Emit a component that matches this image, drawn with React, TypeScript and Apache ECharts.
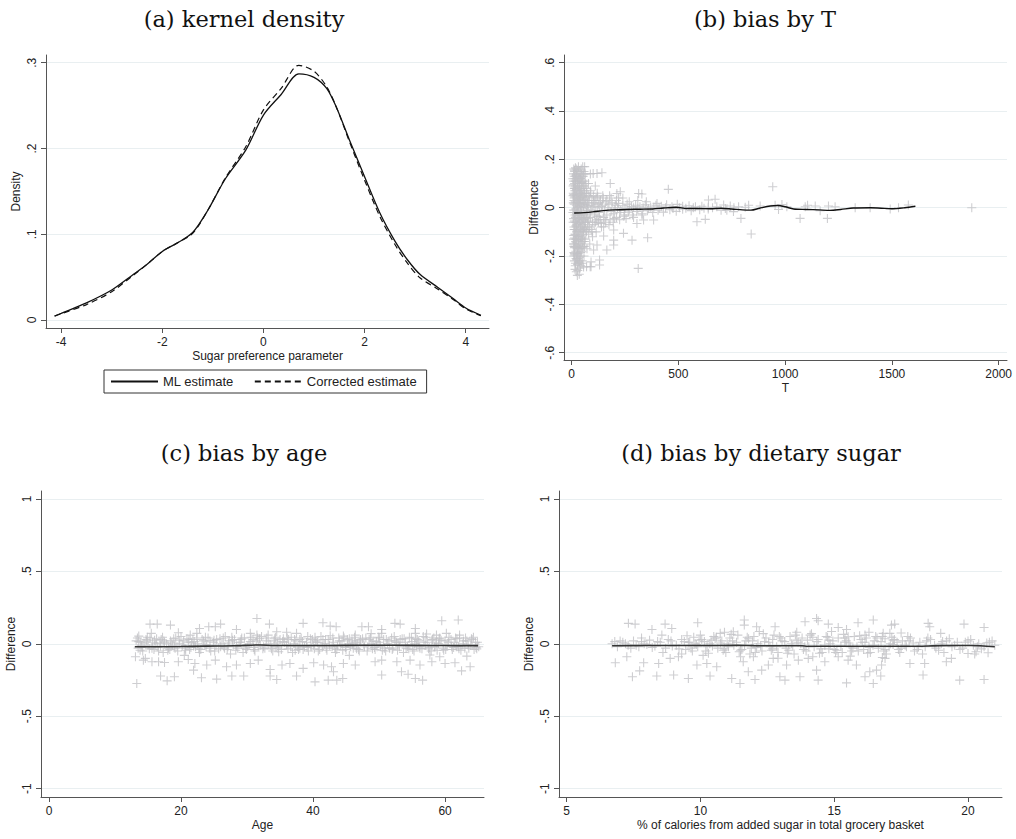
import { useEffect, useRef } from 'react';
import * as echarts from 'echarts';

// (a) kernel density
const kdX = [-4.13, -4.0, -3.5, -3.0, -2.6, -2.3, -2.0, -1.7, -1.4, -1.1, -0.75, -0.35, 0, 0.35, 0.7, 1.0, 1.25, 1.45, 1.7, 2.0, 2.3, 2.6, 2.85, 3.1, 3.45, 3.75, 4.0, 4.3];
const kdML = [0.0047, 0.0078, 0.02, 0.035, 0.052, 0.065, 0.08, 0.09, 0.102, 0.128, 0.165, 0.198, 0.239, 0.263, 0.287, 0.283, 0.27, 0.247, 0.21, 0.167, 0.125, 0.092, 0.07, 0.053, 0.038, 0.025, 0.014, 0.0055];
const kdCorrected = [0.0045, 0.0073, 0.018, 0.033, 0.051, 0.065, 0.08, 0.09, 0.101, 0.128, 0.166, 0.202, 0.245, 0.27, 0.297, 0.29, 0.272, 0.247, 0.208, 0.163, 0.121, 0.088, 0.066, 0.049, 0.036, 0.024, 0.013, 0.005];

// (b) bias by T
const bLineT = [12, 60, 100, 150, 200, 260, 320, 380, 430, 490, 540, 600, 650, 700, 750, 800, 840, 880, 930, 965, 1000, 1040, 1100, 1160, 1210, 1260, 1320, 1400, 1450, 1500, 1560, 1610];
const bLineY = [-0.022, -0.02, -0.017, -0.012, -0.009, -0.007, -0.006, -0.005, -0.001, 0.002, -0.003, -0.003, -0.004, -0.002, -0.005, -0.009, -0.01, -0.002, 0.007, 0.009, 0.004, -0.005, -0.007, -0.009, -0.011, -0.007, -0.001, 0, -0.002, -0.004, 0, 0.006];
const bPoints: [number, number][] = [
  [10, 0.16], [14, 0.15], [18, 0.165], [22, 0.14], [27, 0.155], [32, 0.17], [38, 0.15], [45, 0.16], [52, 0.17], [58, 0.15],
  [12, 0.13], [16, 0.12], [21, 0.135], [26, 0.11], [31, 0.125], [36, 0.1], [42, 0.12], [48, 0.105], [55, 0.13], [62, 0.11],
  [9, 0.095], [13, 0.08], [18, 0.09], [24, 0.075], [29, 0.085], [35, 0.065], [40, 0.09], [46, 0.07], [53, 0.08], [60, 0.06],
  [11, 0.055], [15, 0.045], [20, 0.06], [25, 0.04], [30, 0.05], [34, 0.035], [39, 0.055], [44, 0.03], [50, 0.045], [57, 0.035], [66, 0.04], [72, 0.03],
  [8, 0.02], [12, 0.015], [17, 0.025], [22, 0.01], [28, 0.02], [33, 0.005], [37, 0.018], [43, 0.008], [49, 0.015], [56, 0.005], [63, 0.012], [70, 0.0], [78, 0.01],
  [10, -0.01], [14, -0.02], [19, -0.005], [24, -0.025], [29, -0.015], [35, -0.03], [41, -0.01], [47, -0.025], [54, -0.018], [61, -0.03], [68, -0.02], [75, -0.012], [83, -0.025],
  [9, -0.045], [13, -0.055], [18, -0.04], [23, -0.06], [28, -0.05], [33, -0.065], [38, -0.045], [44, -0.055], [51, -0.07], [58, -0.05], [65, -0.06], [73, -0.045], [80, -0.055],
  [11, -0.08], [15, -0.09], [20, -0.075], [26, -0.095], [31, -0.085], [36, -0.1], [42, -0.08], [48, -0.095], [55, -0.09], [62, -0.085], [70, -0.1],
  [10, -0.115], [14, -0.125], [19, -0.11], [24, -0.13], [29, -0.12], [34, -0.135], [40, -0.115], [46, -0.13], [53, -0.125], [60, -0.14],
  [12, -0.15], [16, -0.16], [21, -0.145], [27, -0.165], [32, -0.155], [38, -0.17], [44, -0.15], [50, -0.165],
  [11, -0.185], [15, -0.195], [20, -0.18], [25, -0.2], [31, -0.19], [37, -0.205], [43, -0.185],
  [13, -0.22], [18, -0.23], [23, -0.215], [28, -0.235], [35, -0.225], [42, -0.24], [48, -0.23], [56, -0.245],
  [16, -0.255], [22, -0.265], [29, -0.26], [36, -0.275], [27, -0.28], [70, -0.244], [91, -0.244], [91, -0.224],
  [61, 0.17], [64, 0.14], [88, 0.14], [101, 0.142],
  [6, 0.12], [7, 0.05], [7, -0.06], [8, -0.13], [9, 0.14], [10, -0.2], [11, 0.03], [12, -0.09], [13, 0.155], [14, -0.165],
  [15, 0.07], [16, -0.03], [17, -0.24], [18, 0.11], [19, -0.14], [20, 0.02], [21, -0.21], [22, 0.16], [23, -0.1], [24, 0.05],
  [25, -0.07], [26, 0.13], [27, -0.19], [28, 0.0], [29, 0.1], [30, -0.23], [31, 0.03], [32, -0.12], [33, 0.14], [34, -0.17],
  [35, 0.02], [36, 0.08], [37, -0.06], [38, -0.25], [39, 0.12], [40, -0.15], [41, 0.04], [42, -0.2], [43, 0.15], [44, -0.09],
  [45, 0.0], [46, 0.1], [47, -0.18], [48, 0.06], [49, -0.04], [50, -0.22], [51, 0.13], [52, -0.11], [53, 0.03], [54, -0.16],
  [55, 0.09], [56, -0.05], [57, 0.14], [58, -0.2], [59, 0.02], [60, -0.08], [62, 0.07], [64, -0.13], [66, 0.1], [68, -0.04],
  [70, 0.06], [72, -0.17], [74, 0.02], [76, -0.08], [78, 0.05], [80, -0.11], [82, 0.03], [85, -0.15], [88, 0.07], [92, -0.09],
  [95, 0.01], [98, -0.12], [102, 0.05], [106, -0.07], [110, 0.03], [115, -0.1], [120, 0.06], [126, -0.06], [132, 0.02], [140, -0.08],
  [148, 0.04], [156, -0.05], [165, 0.03], [175, -0.07], [185, 0.04], [195, -0.06], [210, 0.03], [225, -0.05], [240, 0.04], [255, -0.045],
  [270, 0.025], [290, -0.04], [310, 0.03], [330, -0.03], [350, 0.025],
  [6, -0.02], [7, 0.09], [8, 0.06], [9, -0.15], [10, 0.11], [11, -0.16], [12, 0.04], [13, -0.19], [14, 0.1], [15, -0.11],
  [16, 0.08], [17, -0.06], [19, 0.13], [20, -0.13], [21, 0.07], [22, -0.08], [23, 0.12], [25, -0.17], [26, 0.0], [28, -0.21],
  [30, 0.09], [32, -0.04], [34, 0.12], [36, -0.22], [38, 0.04], [40, -0.03], [42, 0.06], [44, -0.12], [46, 0.14], [48, -0.06],
  [50, 0.11], [52, -0.14], [54, 0.05], [56, -0.1], [58, 0.09], [60, -0.16], [63, 0.03], [67, -0.09], [71, 0.08], [75, -0.06],
  [79, 0.1], [84, -0.08], [90, 0.06], [96, -0.1], [104, 0.03], [112, -0.06], [122, 0.045], [134, -0.05], [146, 0.05], [160, -0.06],
  [178, 0.05], [200, -0.045], [220, 0.04], [248, -0.03],
  [85, 0.045], [95, 0.03], [105, 0.02], [115, 0.04], [125, 0.015], [135, 0.03], [145, 0.01], [160, 0.025], [175, 0.015], [190, 0.02],
  [205, 0.01], [220, 0.018], [240, 0.008], [260, 0.015], [280, 0.005], [300, 0.01], [320, 0.004], [345, 0.012], [370, 0.003], [395, 0.01],
  [420, 0.006], [445, 0.012], [470, 0.004], [495, 0.014], [520, 0.006], [550, 0.008], [580, 0.004], [610, 0.006], [640, 0.002], [680, 0.004],
  [88, -0.04], [98, -0.06], [108, -0.03], [118, -0.05], [128, -0.035], [138, -0.065], [150, -0.04], [165, -0.03], [180, -0.05], [195, -0.025],
  [210, -0.04], [225, -0.02], [245, -0.035], [265, -0.018], [285, -0.03], [305, -0.015], [330, -0.025], [355, -0.012], [380, -0.02], [405, -0.01],
  [430, -0.018], [460, -0.008], [490, -0.015], [520, -0.006], [560, -0.012], [600, -0.008], [640, -0.005], [700, -0.01],
  [90, -0.01], [100, 0.005], [110, -0.015], [120, 0.0], [130, -0.02], [140, 0.005], [155, -0.01], [170, 0.0], [185, -0.015], [200, -0.005],
  [215, 0.0], [230, -0.01], [250, -0.003], [270, -0.008], [290, 0.0], [310, -0.005], [335, 0.0], [360, -0.004], [385, 0.002], [410, -0.002],
  [440, 0.0], [475, -0.003], [505, 0.0], [535, -0.002], [570, 0.0], [620, -0.002], [660, 0.0], [720, -0.003], [760, 0.0],
  [119, 0.142], [142, 0.145], [181, 0.1], [111, 0.09], [212, 0.059], [228, 0.066], [314, 0.059], [329, 0.057], [453, 0.076],
  [119, -0.037], [150, -0.079], [197, -0.092], [243, -0.106], [150, -0.117], [197, -0.134], [197, -0.154], [283, -0.134], [356, -0.124],
  [165, -0.175], [119, -0.154], [103, -0.175], [131, -0.216], [131, -0.237], [87, -0.244], [312, -0.251],
  [587, -0.058], [626, -0.048], [641, 0.032], [672, 0.035], [306, -0.065], [337, -0.051], [384, -0.051], [400, 0.018],
  [712, 0.011], [727, -0.01], [743, 0.007], [758, -0.016], [782, 0.004], [793, -0.044], [813, 0.002], [829, 0.01], [841, -0.109], [883, 0.007],
  [942, 0.087], [953, 0.01], [969, -0.007], [985, 0.013], [1008, 0.004], [1070, -0.044], [1094, 0.004], [1105, 0.01], [1141, 0.007], [1164, -0.012],
  [1198, -0.044], [1203, 0.007], [1234, 0.004], [1328, 0.0], [1398, 0.0], [1492, -0.005], [1531, 0.0], [1577, 0.011], [1874, 0.0],
];

// (c) bias by age
const cLineAge = [13, 20, 24, 28, 32, 34, 40, 45, 50, 55, 60, 65];
const cLineY = [-0.021, -0.019, -0.016, -0.014, -0.008, -0.012, -0.012, -0.011, -0.01, -0.011, -0.012, -0.013];
const cPoints: [number, number][] = [
  [13.2, 0.02], [13.5, -0.03], [13.9, 0.01], [14.2, -0.05], [14.7, 0.03], [15.0, -0.01], [15.3, 0.04], [15.9, -0.04], [16.1, 0.0], [16.4, -0.02],
  [17.0, 0.03], [17.3, -0.06], [17.5, 0.01], [18.1, -0.03], [18.4, 0.02], [18.7, -0.01], [19.2, 0.04], [19.5, -0.05], [19.8, 0.0], [20.4, 0.02],
  [20.6, -0.03], [21.1, 0.01], [21.3, -0.04], [21.8, 0.03], [22.2, -0.02], [22.5, 0.0], [22.8, -0.06], [23.4, 0.02], [23.6, -0.01], [24.1, 0.04],
  [24.3, -0.03], [24.9, 0.01], [25.1, -0.05], [25.4, 0.03], [26.0, -0.02], [26.2, 0.0], [26.7, 0.05], [27.0, -0.04], [27.3, 0.02], [27.9, -0.01],
  [28.1, 0.03], [28.6, -0.03], [28.8, 0.01], [29.4, -0.06], [29.6, 0.04], [30.1, -0.02], [30.3, 0.0], [30.9, 0.03], [31.1, -0.04], [31.4, 0.02],
  [32.0, -0.01], [32.2, 0.05], [32.7, -0.03], [33.0, 0.04], [33.3, 0.0], [33.9, -0.05], [34.1, 0.02], [34.4, -0.02], [35.0, 0.03], [35.2, -0.04],
  [35.7, 0.01], [36.0, -0.01], [36.3, 0.03], [36.9, -0.06], [37.1, 0.0], [37.4, 0.02], [38.0, -0.03], [38.2, 0.04], [38.7, -0.02], [39.0, 0.01],
  [39.3, -0.05], [39.9, 0.03], [40.1, -0.01], [40.4, 0.02], [41.0, -0.04], [41.2, 0.05], [41.7, 0.0], [42.0, -0.03], [42.3, 0.03], [42.9, -0.02],
  [43.1, 0.01], [43.4, -0.06], [44.0, 0.02], [44.2, -0.01], [44.7, 0.04], [45.0, -0.04], [45.3, 0.0], [45.9, 0.02], [46.1, -0.03], [46.4, 0.01],
  [47.0, -0.05], [47.2, 0.03], [47.7, -0.01], [48.0, 0.04], [48.3, -0.02], [48.9, 0.0], [49.1, 0.02], [49.4, -0.04], [50.0, 0.01], [50.2, -0.02],
  [50.7, 0.03], [51.0, -0.05], [51.3, 0.0], [51.9, 0.04], [52.1, -0.03], [52.4, 0.02], [53.0, -0.01], [53.2, 0.03], [53.7, -0.06], [54.0, 0.01],
  [54.3, -0.02], [54.9, 0.04], [55.1, -0.04], [55.4, 0.0], [56.0, 0.02], [56.2, -0.03], [56.7, 0.05], [57.0, -0.01], [57.3, 0.01], [57.9, -0.05],
  [58.1, 0.03], [58.4, -0.02], [59.0, 0.0], [59.2, 0.04], [59.7, -0.03], [60.0, 0.02], [60.3, -0.01], [60.9, 0.03], [61.1, -0.04], [61.4, 0.01],
  [62.0, -0.02], [62.2, 0.04], [62.7, 0.0], [63.0, -0.03], [63.3, 0.02], [63.9, -0.01], [64.1, 0.03], [64.4, -0.04], [64.9, 0.01], [65.1, -0.02],
  [14.0, -0.01], [16.8, 0.005], [19.0, -0.015], [21.6, 0.01], [23.9, -0.005], [26.5, -0.02], [29.0, 0.01], [31.7, -0.015], [34.6, 0.005], [37.7, -0.02],
  [40.7, 0.01], [43.7, -0.015], [46.7, 0.005], [49.7, -0.02], [52.7, 0.01], [55.7, -0.015], [58.7, 0.005], [61.7, -0.02], [64.6, 0.01],
  [13.4, 0.04], [13.8, -0.045], [14.4, 0.005], [14.9, 0.045], [15.6, -0.03], [16.0, 0.025], [16.6, -0.05], [17.2, 0.045], [17.8, 0.0], [18.3, -0.04],
  [18.9, 0.035], [19.4, -0.02], [20.0, 0.05], [20.7, -0.045], [21.2, 0.03], [21.9, -0.015], [22.4, 0.04], [23.0, -0.04], [23.7, 0.045], [24.5, -0.05],
  [25.0, 0.025], [25.7, -0.035], [26.4, 0.04], [27.1, -0.02], [27.7, 0.045], [28.3, -0.045], [29.1, 0.03], [29.8, -0.03], [30.6, 0.045], [31.2, -0.05],
  [31.9, 0.035], [32.5, -0.02], [33.2, 0.06], [33.7, -0.035], [34.3, 0.045], [34.8, -0.055], [35.5, 0.035], [36.2, -0.035], [36.7, 0.045], [37.3, -0.045],
  [38.0, 0.03], [38.5, -0.04], [39.2, 0.05], [39.7, -0.02], [40.3, 0.045], [40.8, -0.05], [41.5, 0.03], [42.1, -0.045], [42.6, 0.055], [43.3, -0.03],
  [43.9, 0.04], [44.5, -0.045], [45.2, 0.03], [45.7, -0.02], [46.3, 0.045], [46.9, -0.04], [47.5, 0.035], [48.2, -0.05], [48.7, 0.04], [49.3, -0.025],
  [49.9, 0.045], [50.5, -0.045], [51.1, 0.03], [51.6, -0.03], [52.3, 0.05], [52.8, -0.045], [53.5, 0.035], [54.1, -0.03], [54.6, 0.045], [55.3, -0.05],
  [55.8, 0.03], [56.5, -0.035], [57.1, 0.045], [57.6, -0.025], [58.3, 0.04], [58.8, -0.045], [59.4, 0.025], [60.1, -0.04], [60.6, 0.045], [61.3, -0.025],
  [61.8, 0.035], [62.4, -0.045], [63.1, 0.04], [63.6, -0.03], [64.3, 0.045], [64.8, -0.035],
  [13.6, 0.015], [14.1, -0.025], [14.8, 0.02], [15.2, -0.035], [15.7, 0.01], [16.3, 0.035], [16.9, -0.015], [17.4, 0.02], [18.0, -0.045], [18.6, 0.005],
  [19.1, -0.03], [19.7, 0.025], [20.2, -0.01], [20.9, 0.035], [21.5, -0.025], [22.0, 0.015], [22.7, -0.035], [23.2, 0.03], [23.8, -0.02], [24.4, 0.02],
  [25.3, -0.01], [25.9, 0.035], [26.6, -0.03], [27.2, 0.005], [27.8, 0.025], [28.4, -0.015], [29.2, 0.04], [29.9, -0.04], [30.5, 0.015], [31.0, -0.025],
  [31.6, 0.04], [32.4, -0.035], [32.9, 0.02], [33.6, -0.01], [34.2, 0.035], [34.7, -0.03], [35.4, 0.015], [36.1, 0.04], [36.6, -0.02], [37.2, 0.03],
  [37.8, -0.04], [38.4, 0.015], [39.1, -0.025], [39.6, 0.035], [40.2, -0.035], [40.6, 0.01], [41.4, -0.02], [41.9, 0.03], [42.5, -0.01], [43.0, 0.04],
  [43.6, -0.04], [44.4, 0.02], [44.9, -0.025], [45.5, 0.035], [46.0, 0.0], [46.6, -0.035], [47.1, 0.02], [47.8, -0.02], [48.5, 0.03], [49.0, -0.035],
  [49.6, 0.015], [50.1, 0.04], [50.8, -0.03], [51.5, 0.02], [52.0, -0.04], [52.6, 0.01], [53.1, -0.02], [53.8, 0.035], [54.5, -0.035], [55.0, 0.015],
  [55.6, 0.035], [56.1, -0.02], [56.8, 0.01], [57.5, -0.035], [58.0, 0.025], [58.6, -0.01], [59.1, 0.035], [59.8, -0.045], [60.5, 0.01], [61.0, -0.02],
  [61.6, 0.04], [62.1, -0.035], [62.8, 0.02], [63.5, -0.01], [64.0, 0.035], [64.7, -0.025],
  [13.3, -0.274], [15.3, 0.136], [16.4, 0.136], [18.4, 0.129], [31.5, 0.175], [26.0, 0.136], [33.4, 0.136], [24.2, 0.118], [25.2, 0.118], [22.8, 0.106],
  [19.6, 0.076], [15.5, 0.072], [13.6, 0.053], [21.4, 0.06], [22.4, 0.072], [28.4, 0.099], [30.5, 0.072], [31.5, 0.06], [34.5, 0.083], [37.5, 0.072],
  [14.3, -0.113], [15.6, -0.124], [16.6, -0.124], [17.5, -0.129], [19.6, -0.124], [21.1, -0.108], [22.1, -0.136], [21.9, -0.182], [16.9, -0.223],
  [17.9, -0.256], [19.0, -0.228], [23.1, -0.235], [25.4, -0.244], [23.9, -0.147], [25.2, -0.113], [26.9, -0.159], [28.4, -0.147], [27.7, -0.223],
  [29.5, -0.223], [30.5, -0.136], [31.7, -0.113], [33.5, -0.177], [33.5, -0.223], [34.5, -0.247], [35.3, -0.147], [36.5, -0.136], [37.5, -0.223],
  [13.1, -0.09], [14.6, -0.101],
  [38.5, 0.141], [41.5, 0.145], [42.6, 0.122], [43.5, 0.118], [47.4, 0.118], [48.4, 0.118], [50.4, 0.099], [50.4, 0.072], [52.4, 0.141], [53.2, 0.136],
  [55.5, 0.106], [55.5, 0.072], [59.5, 0.159], [62.0, 0.164], [57.2, 0.067], [58.7, 0.06], [60.2, 0.072], [62.2, 0.06], [44.6, 0.053], [46.4, 0.06],
  [38.5, -0.17], [40.3, -0.263], [42.3, -0.251], [43.6, -0.251], [44.5, -0.24], [43.1, -0.193], [42.8, -0.159], [40.1, -0.131], [41.6, -0.147],
  [44.6, -0.136], [46.4, -0.147], [49.4, -0.124], [50.4, -0.113], [50.4, -0.216], [53.4, -0.193], [54.4, -0.21], [55.5, -0.24], [56.6, -0.251],
  [52.7, -0.124], [54.7, -0.113], [56.2, -0.147], [58.0, -0.124], [60.0, -0.136], [61.5, -0.131], [62.5, -0.187], [63.8, -0.159],
  [57.7, -0.078], [59.2, -0.09], [63.3, -0.085], [20.5, -0.08], [27.5, -0.07], [36.0, 0.08], [45.5, -0.08], [48.8, 0.07],
];

// (d) bias by dietary sugar
const dLineSugar = [6.7, 8, 10, 11.4, 12, 13.8, 14, 16, 17.8, 19, 20.1, 21];
const dLineY = [-0.014, -0.012, -0.012, -0.011, -0.013, -0.014, -0.017, -0.017, -0.017, -0.013, -0.012, -0.02];
const dPoints: [number, number][] = [
  [6.7, 0.0], [6.9, -0.02], [7.1, 0.01], [7.3, -0.01], [7.5, 0.02], [7.7, -0.02], [7.9, 0.0], [8.1, 0.025], [8.3, -0.015], [8.5, 0.01],
  [8.7, -0.03], [8.9, 0.02], [9.1, -0.01], [9.3, 0.03], [9.45, -0.04], [9.6, 0.01], [9.75, 0.045], [9.9, -0.02], [10.05, 0.03], [10.2, -0.05],
  [10.35, 0.0], [10.5, 0.05], [10.65, -0.03], [10.8, 0.02], [10.95, -0.06], [11.1, 0.04], [11.25, -0.01], [11.4, 0.06], [11.55, -0.04], [11.7, 0.02],
  [11.85, -0.07], [12.0, 0.05], [12.15, 0.0], [12.3, -0.05], [12.45, 0.04], [12.6, -0.02], [12.75, 0.06], [12.9, -0.06], [13.05, 0.02], [13.2, -0.03],
  [13.35, 0.05], [13.5, -0.07], [13.65, 0.01], [13.8, 0.04], [13.95, -0.05], [14.1, 0.06], [14.25, -0.02], [14.4, 0.03], [14.55, -0.06], [14.7, 0.05],
  [14.85, 0.0], [15.0, -0.04], [15.15, 0.04], [15.3, -0.06], [15.45, 0.02], [15.6, -0.02], [15.75, 0.05], [15.9, -0.05], [16.05, 0.01], [16.2, 0.04],
  [16.35, -0.06], [16.5, 0.02], [16.65, -0.03], [16.8, 0.05], [16.95, -0.07], [17.1, 0.0], [17.25, 0.03], [17.4, -0.04], [17.55, 0.02], [17.7, -0.02],
  [17.85, 0.04], [18.0, -0.05], [18.2, 0.01], [18.4, -0.02], [18.6, 0.03], [18.8, -0.03], [19.0, 0.0], [19.2, 0.02], [19.4, -0.02], [19.6, 0.01],
  [19.8, -0.03], [20.0, 0.02], [20.2, -0.01], [20.4, 0.0], [20.6, -0.02], [20.8, 0.01], [21.0, -0.01],
  [9.55, 0.01], [9.85, -0.005], [10.15, 0.015], [10.45, -0.015], [10.75, 0.005], [11.05, -0.02], [11.35, 0.01], [11.65, -0.01], [11.95, 0.02], [12.25, -0.015],
  [12.55, 0.01], [12.85, -0.02], [13.15, 0.015], [13.45, -0.01], [13.75, 0.0], [14.05, -0.02], [14.35, 0.015], [14.65, -0.01], [14.95, 0.02], [15.25, -0.015],
  [15.55, 0.005], [15.85, -0.02], [16.15, 0.01], [16.45, -0.01], [16.75, 0.015], [17.05, -0.02], [17.35, 0.01], [17.65, -0.01], [17.95, 0.005],
  [7.0, 0.02], [7.4, -0.03], [7.8, 0.015], [8.2, -0.025], [8.8, 0.03], [9.2, -0.035], [9.5, 0.055], [9.7, -0.05], [10.0, 0.06], [10.3, -0.065],
  [10.55, 0.035], [10.85, -0.045], [11.15, 0.065], [11.45, -0.055], [11.75, 0.045], [12.05, -0.06], [12.35, 0.07], [12.65, -0.045], [12.95, 0.05], [13.25, -0.065],
  [13.55, 0.06], [13.85, -0.04], [14.15, 0.07], [14.45, -0.065], [14.75, 0.045], [15.05, -0.06], [15.35, 0.065], [15.65, -0.05], [15.95, 0.055], [16.25, -0.065],
  [16.55, 0.05], [16.85, -0.05], [17.15, 0.045], [17.45, -0.06], [17.75, 0.05], [18.1, -0.04], [18.5, 0.04], [18.9, -0.045], [19.3, 0.035], [19.7, -0.04],
  [20.1, 0.03], [20.5, -0.035], [20.9, 0.02], [11.0, 0.0], [11.9, -0.03], [12.7, 0.03], [13.4, 0.0], [14.0, 0.025], [14.8, -0.035], [15.4, 0.01],
  [16.1, -0.04], [16.9, 0.035], [17.2, -0.005], [10.4, 0.025], [9.8, 0.0],
  [9.4, 0.015], [9.65, -0.03], [9.95, 0.025], [10.25, -0.02], [10.6, 0.045], [10.9, -0.035], [11.2, 0.02], [11.5, -0.045], [11.8, 0.035], [12.1, -0.025],
  [12.4, 0.015], [12.7, -0.035], [13.0, 0.04], [13.3, -0.045], [13.6, 0.025], [13.9, -0.02], [14.2, 0.045], [14.5, -0.035], [14.8, 0.025], [15.1, -0.045],
  [15.4, 0.04], [15.7, -0.03], [16.0, 0.03], [16.3, -0.025], [16.6, 0.04], [16.9, -0.04], [17.2, 0.025], [17.5, -0.03], [17.8, 0.02], [18.15, -0.02],
  [18.45, 0.02], [18.75, -0.01], [19.05, 0.015], [19.5, -0.01], [19.9, 0.01], [20.35, -0.02], [20.7, 0.005], [8.0, -0.005], [8.4, 0.015], [8.95, -0.015],
  [7.2, 0.0], [7.6, -0.01], [6.8, 0.015],
  [10.1, -0.08], [10.9, 0.08], [11.5, -0.09], [12.2, 0.085], [12.9, -0.1], [13.6, 0.08], [14.2, -0.09], [14.9, 0.085], [15.6, -0.085], [16.3, 0.08],
  [16.8, -0.095], [17.5, 0.075], [9.3, -0.07], [18.3, -0.07], [19.1, -0.06], [8.6, -0.06], [7.8, 0.04], [20.3, -0.055],
  [7.31, 0.141], [7.56, 0.136], [8.19, 0.099], [8.68, 0.136], [8.93, 0.106], [8.56, 0.06], [9.9, 0.145], [6.82, -0.131], [7.25, -0.09], [7.73, -0.187],
  [7.88, -0.131], [7.46, -0.228], [8.44, -0.136], [8.37, -0.223], [8.87, -0.101], [9.0, -0.216], [9.55, -0.24], [9.18, -0.09], [9.87, -0.147], [10.36, -0.223],
  [10.24, -0.136], [10.61, -0.159], [11.17, -0.24], [11.48, -0.274], [11.64, 0.164], [11.64, 0.129], [12.1, 0.118], [12.79, 0.118], [11.23, 0.083], [10.74, 0.072],
  [11.79, -0.193], [12.04, -0.247], [12.29, -0.182], [11.6, -0.124], [12.54, -0.147], [12.97, -0.228], [13.16, -0.251], [13.22, -0.147], [12.72, -0.101], [11.98, -0.09],
  [13.91, 0.152], [14.34, 0.175], [14.4, 0.159], [14.78, 0.136], [15.15, 0.113], [15.46, 0.099], [15.89, 0.145], [16.46, 0.164], [17.14, 0.129], [17.26, 0.136],
  [16.83, 0.072], [17.08, 0.072], [18.51, 0.141], [18.57, 0.118], [18.98, 0.072], [19.85, 0.136], [20.6, 0.113], [15.52, 0.048], [16.15, 0.06],
  [13.66, -0.113], [14.03, -0.101], [13.72, -0.228], [14.34, -0.182], [14.4, -0.251], [14.65, -0.124], [15.15, -0.09], [15.52, -0.113], [15.46, -0.27],
  [15.83, -0.147], [16.15, -0.228], [16.33, -0.193], [16.58, -0.182], [16.46, -0.274], [16.77, -0.147], [16.74, -0.223], [16.9, -0.101], [17.83, -0.136],
  [18.32, -0.216], [18.38, -0.136], [19.19, -0.124], [19.38, -0.101], [19.69, -0.251], [20.0, -0.067], [20.25, -0.071], [20.6, -0.247], [20.75, -0.062],
];

const PLUS = 'path://M4.4,0H5.6V4.4H10V5.6H5.6V10H4.4V5.6H0V4.4H4.4Z';
const MARK = '#c2c2c6';
const AXIS = '#555';
const GRIDLINE = '#e9eff1';
const SANS = '"Liberation Sans", Arial, sans-serif';

const fmtX = (v: number) => String(+v.toFixed(2));
const fmtY = (v: number) => {
  if (v === 0) return '0';
  const s = String(Math.abs(+v.toFixed(2))).replace(/^0\./, '.');
  return (v < 0 ? '-' : '') + s;
};

function xAxisCfg(gridIndex: number, min: number, max: number, ticks: number[], name: string) {
  return {
    type: 'value', gridIndex, min, max, name, nameLocation: 'middle', nameGap: 22,
    nameTextStyle: { fontFamily: SANS, fontSize: 12, color: '#222' },
    axisLine: { show: true, onZero: false, lineStyle: { color: AXIS, width: 1 } },
    axisTick: { show: true, length: 5, customValues: ticks, lineStyle: { color: AXIS } },
    axisLabel: { customValues: ticks, margin: 8, formatter: fmtX, fontFamily: SANS, fontSize: 12, color: '#222' },
    splitLine: { show: false },
  };
}

function yAxisCfg(gridIndex: number, min: number, max: number, ticks: number[], name: string) {
  return {
    type: 'value', gridIndex, min, max, name, nameLocation: 'middle', nameGap: 24, nameRotate: 90,
    nameTextStyle: { fontFamily: SANS, fontSize: 12, color: '#222' },
    axisLine: { show: true, onZero: false, lineStyle: { color: AXIS, width: 1 } },
    axisTick: { show: true, length: 5, customValues: ticks, lineStyle: { color: AXIS } },
    axisLabel: { customValues: ticks, rotate: 90, margin: 8, formatter: fmtY, fontFamily: SANS, fontSize: 12, color: '#222' },
    splitLine: { show: true, lineStyle: { color: GRIDLINE, width: 1 } },
  };
}

const scatter = (i: number, data: [number, number][]) => ({
  type: 'scatter', xAxisIndex: i, yAxisIndex: i, data, symbol: PLUS, symbolSize: 9,
  itemStyle: { color: MARK }, z: 2, silent: true,
});

const fitLine = (i: number, xs: number[], ys: number[], color: string, width: number) => ({
  type: 'line', xAxisIndex: i, yAxisIndex: i, data: xs.map((x, k) => [x, ys[k]]),
  symbol: 'none', smooth: 0.3, lineStyle: { color, width }, z: 3, silent: true,
});

const title = (text: string, x: number, y: number) => ({
  type: 'text', x, y,
  style: {
    text, font: '22.5px "DejaVu Serif", serif', fill: '#111',
    textAlign: 'center', textVerticalAlign: 'middle', align: 'center', verticalAlign: 'middle',
  },
});

export default function App() {
  const ref = useRef<HTMLDivElement | null>(null);

  useEffect(() => {
    if (!ref.current) return;
    const chart = echarts.init(ref.current, undefined, { renderer: 'svg' });
    chart.setOption({
      animation: false,
      backgroundColor: '#fff',
      graphic: [
        title('(a) kernel density', 244, 19),
        title('(b) bias by T', 765, 19),
        title('(c) bias by age', 244, 453),
        title('(d) bias by dietary sugar', 761, 453),
      ],
      legend: {
        data: ['ML estimate', 'Corrected estimate'],
        left: 104, top: 370, orient: 'horizontal',
        borderColor: '#333', borderWidth: 1, padding: [5, 10, 5, 6],
        itemWidth: 47, itemHeight: 12, itemGap: 20,
        textStyle: { fontFamily: SANS, fontSize: 13, color: '#222' },
      },
      grid: [
        { left: 46, top: 55, width: 443, height: 273 },
        { left: 564, top: 55, width: 443, height: 305 },
        { left: 41, top: 491, width: 443, height: 306 },
        { left: 559, top: 491, width: 443, height: 306 },
      ],
      xAxis: [
        xAxisCfg(0, -4.3, 4.46, [-4, -2, 0, 2, 4], 'Sugar preference parameter'),
        xAxisCfg(1, -35.6, 2039, [0, 500, 1000, 1500, 2000], 'T'),
        xAxisCfg(2, -1.21, 65.9, [0, 20, 40, 60], 'Age'),
        xAxisCfg(3, 4.716, 21.27, [5, 10, 15, 20], '% of calories from added sugar in total grocery basket'),
      ],
      yAxis: [
        yAxisCfg(0, -0.0093, 0.309, [0, 0.1, 0.2, 0.3], 'Density'),
        yAxisCfg(1, -0.63, 0.632, [-0.6, -0.4, -0.2, 0, 0.2, 0.4, 0.6], 'Difference'),
        yAxisCfg(2, -1.058, 1.055, [-1, -0.5, 0, 0.5, 1], 'Difference'),
        yAxisCfg(3, -1.058, 1.055, [-1, -0.5, 0, 0.5, 1], 'Difference'),
      ],
      series: [
        {
          name: 'ML estimate', type: 'line', xAxisIndex: 0, yAxisIndex: 0,
          data: kdX.map((x, k) => [x, kdML[k]]), symbol: 'none', smooth: 0.3,
          lineStyle: { color: '#111', width: 1.3 }, itemStyle: { color: '#111', opacity: 0 },
        },
        {
          name: 'Corrected estimate', type: 'line', xAxisIndex: 0, yAxisIndex: 0,
          data: kdX.map((x, k) => [x, kdCorrected[k]]), symbol: 'none', smooth: 0.3,
          lineStyle: { color: '#111', width: 1.2, type: [6, 4] }, itemStyle: { color: '#111', opacity: 0 },
        },
        scatter(1, bPoints),
        fitLine(1, bLineT, bLineY, '#111', 1.4),
        scatter(2, cPoints),
        fitLine(2, cLineAge, cLineY, '#333', 1.6),
        scatter(3, dPoints),
        fitLine(3, dLineSugar, dLineY, '#333', 1.6),
      ],
    });
    return () => chart.dispose();
  }, []);

  return <div ref={ref} style={{ position: 'fixed', left: 0, top: 0, width: 1016, height: 839 }} />;
}
